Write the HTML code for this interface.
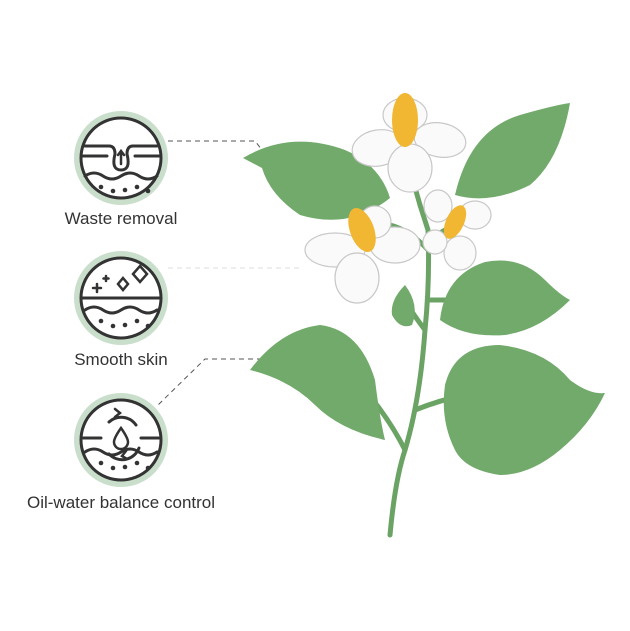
<!DOCTYPE html>
<html><head><style>
body{margin:0;background:#fff;width:630px;height:626px;overflow:hidden;font-family:"Liberation Sans",sans-serif}
</style></head><body>
<svg width="630" height="626" viewBox="0 0 630 626" xmlns="http://www.w3.org/2000/svg">
<g fill="none" stroke="#555" stroke-width="1" stroke-dasharray="5,4">
<path d="M168 141 H255 L262 150"/>
<path d="M168 268 H300" stroke="#ddd"/>
<path d="M262 359 H205 L158 405"/>
</g>
<g stroke="#333" stroke-width="3" fill="none" stroke-linecap="round">
<g transform="translate(121,158)">
<circle r="44" stroke="#c9dfcb" stroke-width="6"/><circle r="40" fill="#fff"/>
<path d="M-36 -12 H-12 Q-6 -12 -6 -4 Q-10 12 0 12 Q10 12 6 -4 Q6 -12 12 -12 H36"/>
<path d="M-39 -2 H-14 M14 -2 H39"/>
<path d="M0 6 V-6 M-3 -3 L0 -7 L3 -3" stroke-width="2.5"/>
<path d="M-36 18 Q-27 12 -18 18 T0 18 T18 18 T36 18"/>
<g fill="#333" stroke="none"><circle cx="-20" cy="29" r="2.3"/><circle cx="-8" cy="33" r="2.3"/><circle cx="4" cy="32" r="2.3"/><circle cx="16" cy="29" r="2.3"/><circle cx="27" cy="33" r="2.3"/></g>
</g>
<g transform="translate(121,298)">
<circle r="44" stroke="#c9dfcb" stroke-width="6"/><circle r="40" fill="#fff"/>
<path d="M-40 0 H40"/>
<path d="M-24 -14 V-6 M-28 -10 H-20 M-15 -22 V-17 M-17.5 -19.5 H-12.5" stroke-width="2.5"/>
<path d="M2 -20 L7 -14 L2 -8 L-3 -14Z M19 -32 L26 -24 L19 -16 L12 -24Z" stroke-width="2.5"/>
<path d="M-36 12 Q-27 6 -18 12 T0 12 T18 12 T36 12"/>
<g fill="#333" stroke="none"><circle cx="-20" cy="23" r="2.3"/><circle cx="-8" cy="28" r="2.3"/><circle cx="4" cy="27" r="2.3"/><circle cx="16" cy="23" r="2.3"/><circle cx="27" cy="28" r="2.3"/></g>
</g>
<g transform="translate(121,440)">
<circle r="44" stroke="#c9dfcb" stroke-width="6"/><circle r="40" fill="#fff"/>
<path d="M-38 -2 H-20 M20 -2 H38"/>
<path d="M-12 -18 A18 18 0 0 1 15 -15 M18 8 A18 18 0 0 1 -12 14"/>
<path d="M-6 -31 L-1 -27 L-6 -23 M6 19 L1 16 L5 11" stroke-width="2.5"/>
<path d="M0 -12 Q-7 -2 -7 2 A7 7 0 0 0 7 2 Q7 -2 0 -12Z" stroke-width="2.5"/>
<path d="M-36 12 Q-27 6 -18 12 T0 12 T18 12 T36 12"/>
<g fill="#333" stroke="none"><circle cx="-20" cy="23" r="2.3"/><circle cx="-8" cy="28" r="2.3"/><circle cx="4" cy="27" r="2.3"/><circle cx="16" cy="23" r="2.3"/><circle cx="27" cy="28" r="2.3"/></g>
</g>
</g>
<g font-size="17" fill="#333" text-anchor="middle">
<text x="121" y="224">Waste removal</text>
<text x="121" y="365">Smooth skin</text>
<text x="121" y="508">Oil-water balance control</text>
</g>
<g stroke="#6aa364" stroke-width="5" fill="none" stroke-linecap="round">
<path d="M390 535 Q395 480 405 450 Q420 400 425 330 Q430 280 428 230 L420 205"/>
<path d="M405 450 Q390 420 365 390"/>
<path d="M415 410 Q440 400 465 395"/>
<path d="M425 330 Q410 310 405 300 M428 300 L450 300"/>
<path d="M428 250 Q410 230 390 225 M428 240 L445 230 M420 205 L410 170"/>
</g>
<g fill="#72aa6b">
<path d="M243 158 Q290 130 345 150 Q380 165 390 198 Q350 230 300 215 Q270 195 262 168 Z"/>
<path d="M455 195 Q470 130 520 115 Q555 105 570 103 Q560 160 530 185 Q490 205 455 195Z"/>
<path d="M440 320 Q445 275 485 262 Q520 255 545 280 Q560 295 570 300 Q540 330 505 335 Q465 338 440 320Z"/>
<path d="M405 285 Q390 300 392 315 Q400 330 412 325 Q420 305 405 285Z"/>
<path d="M250 370 Q280 330 320 325 Q360 330 375 380 Q380 420 385 440 Q340 430 315 405 Q290 380 250 370Z"/>
<path d="M445 385 Q455 345 500 345 Q545 350 570 380 Q590 395 605 393 Q590 425 560 450 Q530 475 500 475 Q465 470 455 450 Q440 420 445 385Z"/>
</g>
<g fill="#fafafa" stroke="#c8c8c8" stroke-width="1.2">
<ellipse cx="378" cy="148" rx="26" ry="18" transform="rotate(-10 378 148)"/>
<ellipse cx="440" cy="140" rx="26" ry="17" transform="rotate(10 440 140)"/>
<ellipse cx="410" cy="168" rx="22" ry="24"/>
<ellipse cx="405" cy="115" rx="22" ry="17"/>
<ellipse cx="335" cy="250" rx="30" ry="17"/>
<ellipse cx="395" cy="245" rx="25" ry="18"/>
<ellipse cx="357" cy="278" rx="22" ry="25"/>
<ellipse cx="375" cy="222" rx="16" ry="16"/>
<ellipse cx="438" cy="206" rx="14" ry="16"/>
<ellipse cx="475" cy="215" rx="16" ry="14"/>
<ellipse cx="460" cy="253" rx="16" ry="17"/>
<ellipse cx="435" cy="242" rx="12" ry="12"/>
</g>
<g fill="#f1b732">
<ellipse cx="405" cy="120" rx="13" ry="27"/>
<ellipse cx="362" cy="230" rx="12" ry="23" transform="rotate(-20 362 230)"/>
<ellipse cx="455" cy="222" rx="9" ry="18" transform="rotate(25 455 222)"/>
</g>
</svg>
</body></html>
